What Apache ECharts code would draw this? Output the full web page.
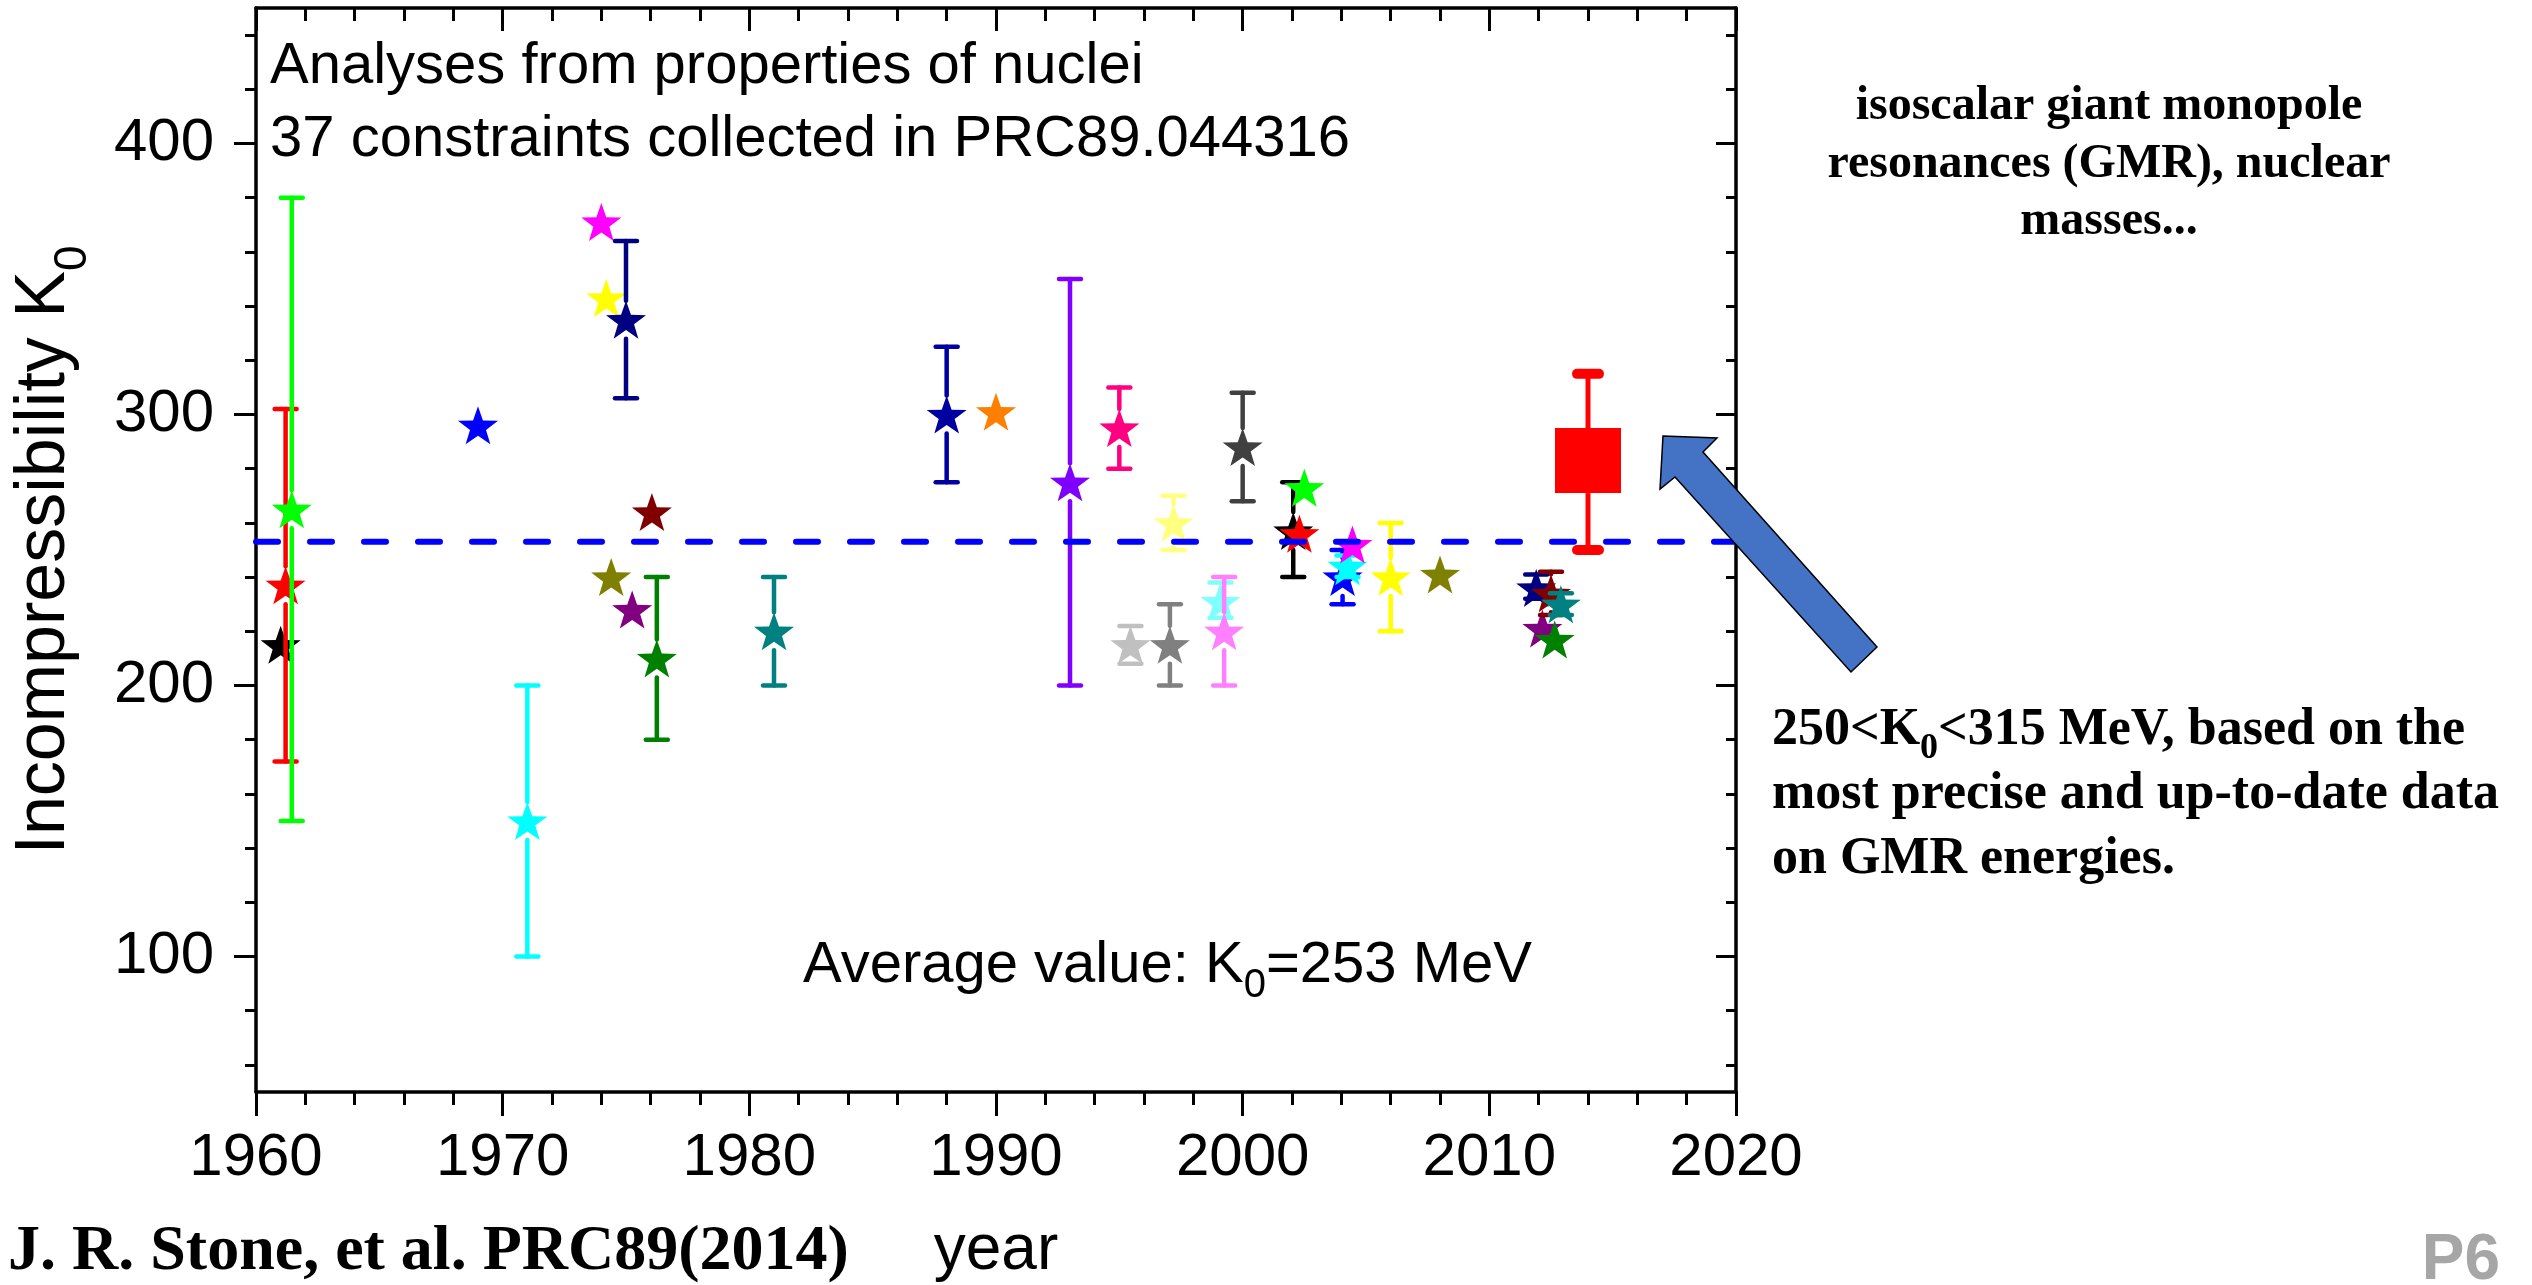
<!DOCTYPE html>
<html>
<head>
<meta charset="utf-8">
<script src="https://cdn.jsdelivr.net/npm/echarts@6/dist/echarts.min.js"></script>
<style>
  html, body { margin: 0; padding: 0; background: #ffffff; }
  #chart { width: 2532px; height: 1285px; }
</style>
</head>
<body>
<div id="chart"></div>
<script>
// Nuclear incompressibility K0 (MeV) extracted from properties of nuclei, by year of analysis
const years = [1961.0, 1961.2, 1961.45, 1969.0, 1971.0, 1974.0, 1974.2, 1974.4, 1975.0, 1975.25,
               1976.05, 1976.25, 1981.0, 1988.0, 1990.0, 1993.0, 1995.0, 1995.45, 1997.05, 1997.2,
               1999.1, 1999.25, 2000.0, 2002.05, 2002.3, 2002.5, 2004.05, 2004.25, 2004.45, 2006.0,
               2008.0, 2011.9, 2012.15, 2012.5, 2012.65, 2012.9];
const k0 = [215, 237, 265, 296, 150, 371, 343, 240, 335, 228,
            264, 210, 220, 300, 301, 275, 295, 215, 215, 260,
            231, 220, 288, 257, 256, 273, 240, 244, 252, 240,
            241, 236, 221, 234, 217, 230];
// lower / upper ends of the error bars (null where no bar is drawn)
const k0Low = [null, 172, 150, null, 100, null, null, null, 306, null,
               null, 180, 200, 275, null, 200, 280, 208, 200, 250,
               225, 200, 268, 240, null, null, 230, 240, null, 220,
               null, 232, null, 226, null, 226];
const k0High = [null, 302, 380, null, 200, null, null, null, 364, null,
                null, 240, 240, 325, null, 350, 310, 222, 230, 270,
                238, 240, 308, 275, null, null, 250, 248, null, 260,
                null, 241, null, 242, null, 234];
// Marker colours, one per constraint (Origin colour cycle)
const markerColors = ['#000000', '#ff0000', '#00ff00', '#0000ff', '#00ffff', '#ff00ff', '#ffff00', '#808000', '#000080', '#800080',
                      '#800000', '#008000', '#008080', '#0000a0', '#ff8000', '#8000ff', '#ff0080', '#c0c0c0', '#808080', '#ffff80',
                      '#80ffff', '#ff80ff', '#404040', '#000000', '#ff0000', '#00ff00', '#0000ff', '#00ffff', '#ff00ff', '#ffff00',
                      '#808000', '#000080', '#800080', '#800000', '#008000', '#008080'];

// GMR-based range and central box
const gmrYear = 2014;
const gmrRange = [250, 315];
const gmrBox = [271, 295];

// Average of all constraints
const avgK0 = 253;

// Axis ranges and ticks
const xRange = [1960, 2020];
const yRange = [50, 450];
const yMajorTicks = [100, 200, 300, 400];
const yMinorTicks = [60, 80, 120, 140, 160, 180, 220, 240, 260, 280, 320, 340, 360, 380, 420, 440];

const SANS = '"Liberation Sans", Arial, sans-serif';
const SERIF = '"Liberation Serif", "Times New Roman", serif';
const STAR = 'M50 0L61.76 33.82L97.55 34.55L69.02 56.18L79.39 90.45L50 70L20.61 90.45L30.98 56.18L2.45 34.55L38.24 33.82Z';
const GAP = 19;      // error bar gap around the star, px
const CAP = 11;      // half length of error bar caps, px

const chart = echarts.init(document.getElementById('chart'), null, { renderer: 'canvas' });

function renderConstraint(params, api) {
  const color = markerColors[params.dataIndex];
  const x = api.value(0);
  const c = api.coord([x, api.value(1)]);
  const lo = api.value(2), hi = api.value(3);
  const kids = [];
  const bar = { stroke: color, lineWidth: 4.5, lineCap: 'round' };
  if (!isNaN(lo) && !isNaN(hi)) {
    const pl = api.coord([x, lo]);
    const ph = api.coord([x, hi]);
    if (ph[1] < c[1] - GAP) {
      kids.push({ type: 'line', shape: { x1: c[0], y1: ph[1], x2: c[0], y2: c[1] - GAP }, style: bar });
    }
    if (pl[1] > c[1] + GAP) {
      kids.push({ type: 'line', shape: { x1: c[0], y1: c[1] + GAP, x2: c[0], y2: pl[1] }, style: bar });
    }
    kids.push({ type: 'line', shape: { x1: c[0] - CAP, y1: ph[1], x2: c[0] + CAP, y2: ph[1] }, style: bar });
    kids.push({ type: 'line', shape: { x1: c[0] - CAP, y1: pl[1], x2: c[0] + CAP, y2: pl[1] }, style: bar });
  }
  kids.push({
    type: 'path',
    shape: { pathData: STAR, x: c[0] - 20, y: c[1] - 19, width: 40, height: 38, layout: 'cover' },
    style: { fill: color }
  });
  return { type: 'group', children: kids };
}

function renderGmr(params, api) {
  const x = api.value(0);
  const pLo = api.coord([x, api.value(1)]);
  const bLo = api.coord([x, api.value(2)]);
  const bHi = api.coord([x, api.value(3)]);
  const pHi = api.coord([x, api.value(4)]);
  const red = '#ff0000';
  const whisker = { stroke: red, lineWidth: 5 };
  const cap = { stroke: red, lineWidth: 10, lineCap: 'round' };
  return {
    type: 'group',
    children: [
      { type: 'line', shape: { x1: pHi[0], y1: pHi[1], x2: pHi[0], y2: bHi[1] }, style: whisker },
      { type: 'line', shape: { x1: pLo[0], y1: bLo[1], x2: pLo[0], y2: pLo[1] }, style: whisker },
      { type: 'line', shape: { x1: pHi[0] - CAP, y1: pHi[1], x2: pHi[0] + CAP, y2: pHi[1] }, style: cap },
      { type: 'line', shape: { x1: pLo[0] - CAP, y1: pLo[1], x2: pLo[0] + CAP, y2: pLo[1] }, style: cap },
      { type: 'rect', shape: { x: bHi[0] - 33, y: bHi[1], width: 66, height: bLo[1] - bHi[1] }, style: { fill: red } }
    ]
  };
}

const axisLine = { show: true, onZero: false, lineStyle: { color: '#000', width: 3.5 } };
const tickStyle = { color: '#000', width: 3 };

const xBase = {
  type: 'value', min: xRange[0], max: xRange[1], interval: 10,
  axisLine: axisLine, splitLine: { show: false }
};
const yBase = {
  type: 'value', min: yRange[0], max: yRange[1],
  splitLine: { show: false }
};

const option = {
  animation: false,
  backgroundColor: '#ffffff',
  grid: { left: 256, right: 796, top: 8, bottom: 193, containLabel: false, outerBoundsMode: 'none' },
  xAxis: [
    Object.assign({}, xBase, {
      position: 'bottom',
      axisTick: { show: true, inside: false, length: 24, lineStyle: tickStyle },
      minorTick: { show: true, splitNumber: 5, length: 13, lineStyle: tickStyle },
      axisLabel: { show: true, fontSize: 60, fontFamily: SANS, color: '#000', margin: 36, formatter: (v) => String(v) },
      name: 'year', nameLocation: 'middle', nameGap: 127,
      nameTextStyle: { fontSize: 64, fontFamily: SANS, color: '#000' }
    }),
    Object.assign({}, xBase, {
      position: 'top',
      axisTick: { show: true, inside: true, length: 23, lineStyle: tickStyle },
      minorTick: { show: true, splitNumber: 5, length: 13, lineStyle: tickStyle },
      axisLabel: { show: false }
    })
  ],
  yAxis: [
    Object.assign({}, yBase, {
      position: 'left',
      axisLine: axisLine,
      axisTick: { show: true, inside: false, length: 22, lineStyle: tickStyle, customValues: yMajorTicks },
      axisLabel: { show: true, fontSize: 60, fontFamily: SANS, color: '#000', margin: 42, customValues: yMajorTicks },
      name: '{m|Incompressibility K}{s|0}', nameLocation: 'middle', nameGap: 176,
      nameTextStyle: {
        rich: {
          m: { fontSize: 70, fontFamily: SANS, color: '#000', lineHeight: 70, verticalAlign: 'middle' },
          s: { fontSize: 46, fontFamily: SANS, color: '#000', height: 13, lineHeight: 13, verticalAlign: 'bottom' }
        }
      }
    }),
    Object.assign({}, yBase, {
      position: 'left',
      axisLine: { show: false },
      axisTick: { show: true, inside: false, length: 11, lineStyle: tickStyle, customValues: yMinorTicks },
      axisLabel: { show: false }
    }),
    Object.assign({}, yBase, {
      position: 'right',
      axisLine: axisLine,
      axisTick: { show: true, inside: true, length: 20, lineStyle: tickStyle, customValues: yMajorTicks },
      axisLabel: { show: false }
    }),
    Object.assign({}, yBase, {
      position: 'right',
      axisLine: { show: false },
      axisTick: { show: true, inside: true, length: 10, lineStyle: tickStyle, customValues: yMinorTicks },
      axisLabel: { show: false }
    })
  ],
  series: [
    {
      type: 'custom',
      name: 'constraints',
      xAxisIndex: 0, yAxisIndex: 0,
      renderItem: renderConstraint,
      encode: { x: 0, y: [1, 2, 3] },
      data: years.map((yr, i) => [yr, k0[i], k0Low[i] == null ? NaN : k0Low[i], k0High[i] == null ? NaN : k0High[i]]),
      silent: true, z: 3
    },
    {
      type: 'custom',
      name: 'GMR',
      xAxisIndex: 0, yAxisIndex: 0,
      renderItem: renderGmr,
      encode: { x: 0, y: [1, 2, 3, 4] },
      data: [[gmrYear, gmrRange[0], gmrBox[0], gmrBox[1], gmrRange[1]]],
      silent: true, z: 3
    },
    {
      type: 'line',
      name: 'average',
      xAxisIndex: 0, yAxisIndex: 0,
      data: [[xRange[0], avgK0], [xRange[1], avgK0]],
      symbol: 'none',
      lineStyle: { color: '#0000ff', width: 6, type: [22, 32], cap: 'round' },
      silent: true, z: 4
    }
  ],
  graphic: [
    {
      type: 'text', x: 270, y: 67,
      style: { text: 'Analyses from properties of nuclei', font: '58px ' + SANS, fill: '#000', align: 'left', verticalAlign: 'middle' }
    },
    {
      type: 'text', x: 270, y: 140,
      style: { text: '37 constraints collected in PRC89.044316', font: '58px ' + SANS, fill: '#000', align: 'left', verticalAlign: 'middle' }
    },
    {
      type: 'text', x: 803, y: 966,
      style: {
        text: '{m|Average value: K}{s|0}{m|=' + avgK0 + ' MeV}',
        align: 'left', verticalAlign: 'middle',
        rich: {
          m: { font: '58px ' + SANS, fill: '#000', lineHeight: 58, verticalAlign: 'middle' },
          s: { font: '40px ' + SANS, fill: '#000', height: 18, lineHeight: 18, verticalAlign: 'bottom' }
        }
      }
    },
    {
      type: 'polygon', z: 10,
      shape: { points: [[1663, 436], [1717, 438], [1703, 452], [1877, 647], [1851, 672], [1675, 477], [1660, 489]] },
      style: { fill: '#4472c4', stroke: '#000', lineWidth: 1.5 }
    },
    {
      type: 'text', x: 2109, y: 107,
      style: { text: 'isoscalar giant monopole', font: 'bold 48px ' + SERIF, fill: '#000', align: 'center', verticalAlign: 'middle' }
    },
    {
      type: 'text', x: 2109, y: 165,
      style: { text: 'resonances (GMR), nuclear', font: 'bold 48px ' + SERIF, fill: '#000', align: 'center', verticalAlign: 'middle' }
    },
    {
      type: 'text', x: 2109, y: 222,
      style: { text: 'masses...', font: 'bold 48px ' + SERIF, fill: '#000', align: 'center', verticalAlign: 'middle' }
    },
    {
      type: 'text', x: 1772, y: 731,
      style: {
        text: '{m|' + gmrRange[0] + '<K}{s|0}{m|<' + gmrRange[1] + ' MeV, based on the}',
        align: 'left', verticalAlign: 'middle',
        rich: {
          m: { font: 'bold 52px ' + SERIF, fill: '#000', lineHeight: 52, verticalAlign: 'middle' },
          s: { font: 'bold 36px ' + SERIF, fill: '#000', height: 17, lineHeight: 17, verticalAlign: 'bottom' }
        }
      }
    },
    {
      type: 'text', x: 1772, y: 795,
      style: { text: 'most precise and up-to-date data', font: 'bold 52px ' + SERIF, fill: '#000', align: 'left', verticalAlign: 'middle' }
    },
    {
      type: 'text', x: 1772, y: 860,
      style: { text: 'on GMR energies.', font: 'bold 52px ' + SERIF, fill: '#000', align: 'left', verticalAlign: 'middle' }
    },
    {
      type: 'text', x: 8, y: 1252,
      style: { text: 'J. R. Stone, et al. PRC89(2014)', font: 'bold 64px ' + SERIF, fill: '#000', align: 'left', verticalAlign: 'middle' }
    },
    {
      type: 'text', x: 2500, y: 1261,
      style: { text: 'P6', font: 'bold 64px ' + SANS, fill: '#a6a6a6', align: 'right', verticalAlign: 'middle' }
    }
  ]
};

chart.setOption(option);
</script>
</body>
</html>
